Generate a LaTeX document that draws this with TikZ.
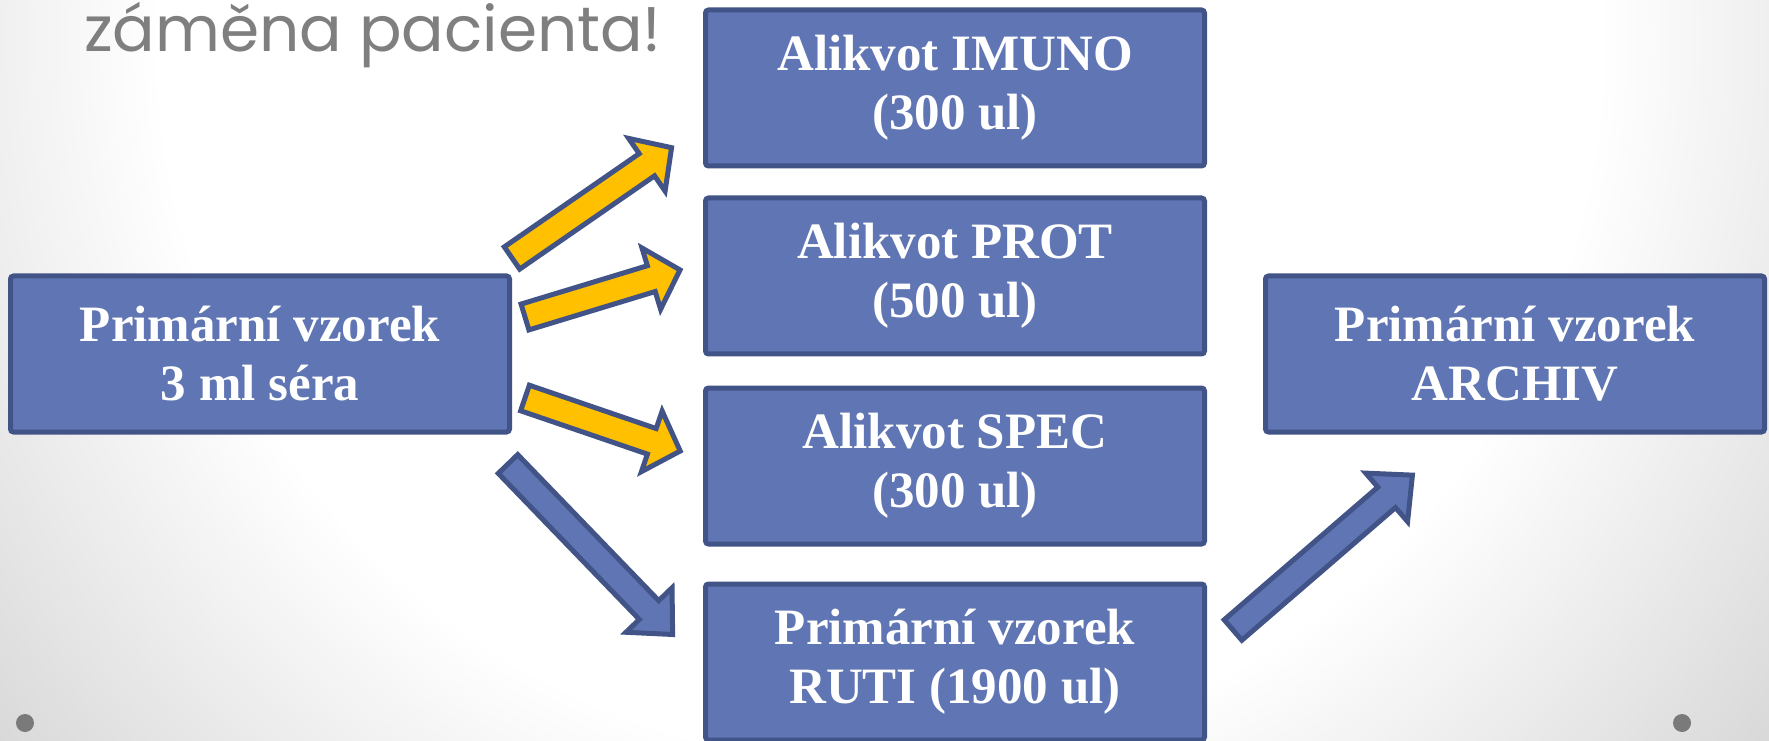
\documentclass[tikz,border=0pt]{standalone}
\usepackage{fontspec}
\setmainfont{Liberation Serif}
\newfontfamily\titlefont{Poppins}
\definecolor{boxfill}{RGB}{96,118,180}
\definecolor{boxline}{RGB}{66,84,135}
\definecolor{arrowyellow}{RGB}{255,192,0}
\definecolor{titlegray}{RGB}{127,127,127}
\definecolor{dotgray}{RGB}{122,122,122}
\definecolor{bgedge}{RGB}{210,210,210}
\pgfdeclareradialshading{bgshade}{\pgfpoint{0bp}{0bp}}{color(0bp)=(white); color(15bp)=(white); color(25bp)=(bgedge); color(50bp)=(bgedge)}
% #1 style, #2 x, #3 y, #4 angle, #5 length, #6 head length
\newcommand\blockarrow[6]{%
  \draw[#1, shift={(#2,#3)}, rotate=#4]
    (0,-13.5) -- ({#5-#6},-13.5) -- ({#5-#6},-32) -- (#5,0)
    -- ({#5-#6},32) -- ({#5-#6},13.5) -- (0,13.5) -- cycle;}
\begin{document}
\begin{tikzpicture}[x=1pt, y=1pt,
  box/.style={draw=boxline, fill=boxfill, line width=5pt, rounded corners=3pt,
    minimum width=499pt, minimum height=156pt, inner sep=0pt, text=white,
    font=\fontsize{51}{59}\selectfont\bfseries, align=center},
  yarrow/.style={draw=boxline, fill=arrowyellow, line width=5pt, line join=miter},
  barrow/.style={draw=boxline, fill=boxfill, line width=5pt, line join=miter},
  dot/.style={fill=dotgray, draw=none}]
\useasboundingbox (0,0) rectangle (1769,740);
\clip (0,0) rectangle (1769,740);
% background
\shade[shading=bgshade] (880-1200,700-1200) rectangle (880+1200,700+1200);
% title
\node[anchor=base west, inner sep=0pt, text=titlegray,
  font=\titlefont\fontsize{63}{63}\selectfont] (title) at (84,688) {záměna pacienta!};
% boxes
\node[box] (src)    at (260,386)  {Primární vzorek\\3 ml séra};
\node[box] (imuno)  at (955,652)  {Alikvot IMUNO\\(300 ul)};
\node[box] (prot)   at (955,464)  {Alikvot PROT\\(500 ul)};
\node[box] (spec)   at (955,274)  {Alikvot SPEC\\(300 ul)};
\node[box] (ruti)   at (955,78)   {Primární vzorek\\RUTI (1900 ul)};
\node[box] (archiv) at (1515,386) {Primární vzorek\\ARCHIV};
% block arrows
\blockarrow{yarrow}{512}{482}{34.66}{194}{30}
\blockarrow{yarrow}{525}{423}{16.9}{162}{30}
\blockarrow{yarrow}{525}{342}{-18.87}{164}{30}
\blockarrow{barrow}{508}{276}{-46.0}{237}{34}
\blockarrow{barrow}{1233}{110}{40.8}{237}{34}
% dots
\fill[dot] (25,17) circle (9);
\fill[dot] (1682,17) circle (9);
\end{tikzpicture}
\end{document}
